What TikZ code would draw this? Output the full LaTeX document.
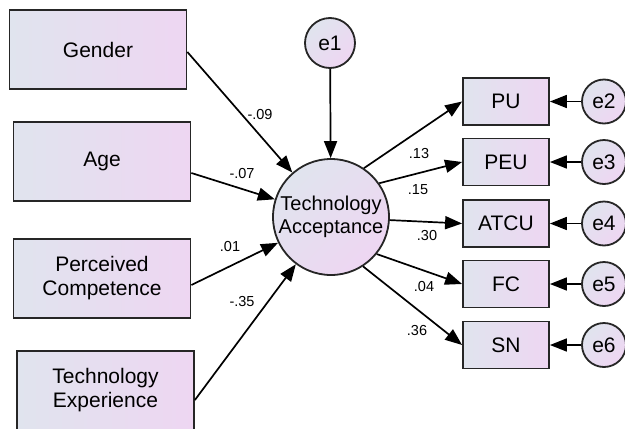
\documentclass[tikz,border=0pt]{standalone}
\usepackage{fontspec}
\setmainfont{Liberation Sans}
\usetikzlibrary{arrows.meta,calc}
\definecolor{cL}{HTML}{E0E4EE}
\definecolor{cR}{HTML}{EED6F2}
\begin{document}
\begin{tikzpicture}[x=1pt,y=-1pt,
  box/.style={draw=black!85,line width=1.8pt,left color=cL,right color=cR,
    font=\fontsize{21}{24}\selectfont,align=center,inner sep=0pt,
    minimum width=177pt,minimum height=79pt},
  obs/.style={box,minimum width=86pt,minimum height=47pt},
  latent/.style={circle,draw=black!85,line width=1.8pt,top color=cL,bottom color=cR,
    shading angle=45,inner sep=0pt,font=\fontsize{20}{23}\selectfont,align=center},
  err/.style={latent,minimum size=44pt,font=\fontsize{21}{24}\selectfont},
  arr/.style={line width=1.7pt,-{Triangle[length=17pt,width=13pt]}},
  lab/.style={font=\fontsize{14.5}{16}\selectfont,inner sep=0pt}]
\clip (0,0) rectangle (625,429);
\fill[white] (0,0) rectangle (625,429);
% left boxes
\node[box] (gender) at (98,49.5) {Gender};
\node[box] (age) at (102,161.5) {Age};
\node[box] (pc) at (102,278.5) {Perceived\\Competence};
\node[box] (te) at (105.5,390.5) {Technology\\Experience};
% central latent
\node[latent,minimum size=116pt] (tech) at (331,217) {Technology\\Acceptance};
\node[latent,minimum size=50pt,font=\fontsize{21}{24}\selectfont] (e1) at (330,43) {e1};
% right boxes
\node[obs] (pu) at (506,101.5) {PU};
\node[obs] (peu) at (506,162) {PEU};
\node[obs] (atcu) at (506,223.5) {ATCU};
\node[obs] (fc) at (506,284) {FC};
\node[obs] (sn) at (506,345) {SN};
% error terms
\node[err] (e2) at (604,101.5) {e2};
\node[err] (e3) at (604,162) {e3};
\node[err] (e4) at (604,223.5) {e4};
\node[err] (e5) at (604,284) {e5};
\node[err] (e6) at (604,345) {e6};
% start points on left boxes
\coordinate (gs) at ($(gender.east)+(0,2.5)$);
\coordinate (as) at ($(age.east)+(0,11.5)$);
\coordinate (ps) at ($(pc.east)+(0,6.5)$);
\coordinate (ts) at ($(te.east)+(0,9.5)$);
\draw[arr] (gs) -- (tech);
\draw[arr] (as) -- (tech);
\draw[arr] (ps) -- (tech);
\draw[arr] (ts) -- (tech);
\draw[arr] (e1) -- (tech);
\draw[arr] (tech.56) -- (pu.west);
\draw[arr] (tech.35) -- (peu.west);
\draw[arr] (tech.-3) -- (atcu.west);
\draw[arr] (tech.-39) -- (fc.west);
\draw[arr] (tech.-57) -- (sn.west);
\draw[arr] (e2) -- (pu);
\draw[arr] (e3) -- (peu);
\draw[arr] (e4) -- (atcu);
\draw[arr] (e5) -- (fc);
\draw[arr] (e6) -- (sn);
% labels
\node[lab] (l1) at (260,115) {-.09};
\node[lab] (l2) at (242,174) {-.07};
\node[lab] (l3) at (230,247) {.01};
\node[lab] (l4) at (242,302) {-.35};
\node[lab] (l5) at (419,154) {.13};
\node[lab] (l6) at (418,190) {.15};
\node[lab] (l7) at (427,236) {.30};
\node[lab] (l8) at (424,287) {.04};
\node[lab] (l9) at (417,331) {.36};
\end{tikzpicture}
\end{document}
